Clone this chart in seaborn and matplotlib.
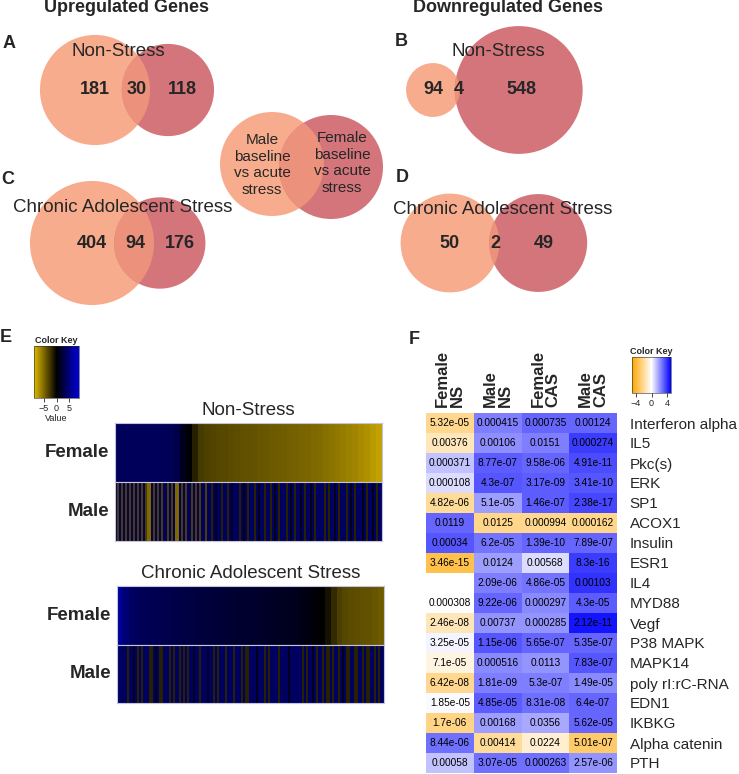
"""
Venn diagrams of up/downregulated genes plus expression and pathway heatmaps.
"""

import math

import matplotlib

matplotlib.use("Agg")
import matplotlib.pyplot as plt
import numpy as np
import pandas as pd
import seaborn as sns
from matplotlib.colors import LinearSegmentedColormap
from matplotlib.patches import Circle

W, H = 739, 774

# --- Venn counts: (only first set, shared, only second set) ---
UP_NS = (181, 30, 118)
UP_CAS = (404, 94, 176)
DOWN_NS = (94, 4, 548)
DOWN_CAS = (50, 2, 49)

# --- Panel E: female rows (sorted fold change), male rows (baseline + lines) ---
FEMALE_NS = [3.8, 3.7, 3.7, 3.7, 3.7, 3.7, 3.7, 3.7, 3.6, 3.5, 3.0, 1.2, 0.0, -1.5, -2.8,
             -3.1, -3.3, -3.4, -3.5, -3.6, -3.7, -3.8, -3.9, -4.0, -4.1, -4.2, -4.3, -4.4,
             -4.5, -4.6, -4.7, -4.8, -4.9, -5.0, -5.2, -5.4, -5.6, -5.8, -6.0, -6.2, -6.4,
             -6.7, -7.0, -7.4, -7.8]
FEMALE_CAS = [6.0, 4.8, 4.0, 3.7, 3.5, 3.4, 3.3, 3.2, 3.1, 3.0, 2.9, 2.8, 2.7, 2.6, 2.5,
              2.4, 2.3, 2.2, 2.1, 2.0, 1.95, 1.9, 1.85, 1.8, 1.7, 1.6, 1.5, 1.4, 1.3, 1.2,
              1.0, 0.8, 0.5, 0.25, 0.0, -0.8, -2.0, -3.0, -3.4, -3.6, -3.7, -3.8, -3.9,
              -4.1, -4.4]
MALE_N = 134
MALE_BASE = 4.0
MALE_NS_BRIGHT = [16, 17, 30, 31]
MALE_NS_GOLD = [1, 3, 5, 7, 9, 11, 13, 15, 19, 21, 23, 26, 28, 33, 35, 38, 40, 42, 45]
MALE_NS_DIM = [48, 53, 56, 62, 66, 70, 75, 78, 82, 86, 90, 95, 100, 105, 107, 112, 116,
               120, 126, 131]
MALE_NS_DARK = [50, 58, 64, 72, 80, 88, 93, 98, 110, 118, 124, 129]
MALE_CAS_LINES = [5, 10, 12, 16, 17, 21, 22, 26, 28, 31, 33, 35, 41, 48, 50, 54, 58, 62,
                  64, 65, 74, 76, 81, 93, 95, 100, 103, 105, 106, 108, 111, 115, 116, 119,
                  120, 123, 125, 126, 129, 131]
MALE_CAS_DARK = [8, 19, 38, 45, 70, 86, 98, 113]

# --- Panel F: pathway z-scores (colour) and p-values (text) ---
PATHWAYS = ["Interferon alpha", "IL5", "Pkc(s)", "ERK", "SP1", "ACOX1", "Insulin", "ESR1",
            "IL4", "MYD88", "Vegf", "P38 MAPK", "MAPK14", "poly rI:rC-RNA", "EDN1",
            "IKBKG", "Alpha catenin", "PTH"]
GROUPS = ["Female\nNS", "Male\nNS", "Female\nCAS", "Male\nCAS"]
Z_FEMALE_NS = [-2.2, -1.3, 1.2, 0.7, -2.0, 3.0, 3.3, -3.5, np.nan, 0.0, -1.4, 0.2, -0.6,
               -2.2, 0.1, -2.4, 2.8, 1.2]
Z_MALE_NS = [2.5, 2.2, 3.2, 3.3, 1.9, -2.3, 2.7, 1.9, 2.5, 3.0, 2.1, 3.3, 2.3, 2.5, 3.2,
             1.9, -2.0, 2.8]
Z_FEMALE_CAS = [3.0, 2.5, 3.0, 3.2, 3.2, -2.2, 3.0, 0.7, 2.7, 2.3, 2.1, 3.0, 2.1, 2.5, 2.8,
                1.7, -0.9, 2.8]
Z_MALE_CAS = [3.0, 3.8, 3.5, 3.3, 3.6, -2.3, 3.0, 3.8, 4.0, 3.2, 4.6, 3.0, 3.3, 2.3, 3.0,
              3.0, -2.9, 2.1]
P_FEMALE_NS = ["5.32e-05", "0.00376", "0.000371", "0.000108", "4.82e-06", "0.0119",
               "0.00034", "3.46e-15", "", "0.000308", "2.46e-08", "3.25e-05", "7.1e-05",
               "6.42e-08", "1.85e-05", "1.7e-06", "8.44e-06", "0.00058"]
P_MALE_NS = ["0.000415", "0.00106", "8.77e-07", "4.3e-07", "5.1e-05", "0.0125", "6.2e-05",
             "0.0124", "2.09e-06", "9.22e-06", "0.00737", "1.15e-06", "0.000516",
             "1.81e-09", "4.85e-05", "0.00168", "0.00414", "3.07e-05"]
P_FEMALE_CAS = ["0.000735", "0.0151", "9.58e-06", "3.17e-09", "1.46e-07", "0.000994",
                "1.39e-10", "0.00568", "4.86e-05", "0.000297", "0.000285", "5.65e-07",
                "0.0113", "5.3e-07", "8.31e-08", "0.0356", "0.0224", "0.000263"]
P_MALE_CAS = ["0.00124", "0.000274", "4.91e-11", "3.41e-10", "2.38e-17", "0.000162",
              "7.89e-07", "8.3e-16", "0.00103", "4.3e-05", "2.12e-11", "5.35e-07",
              "7.83e-07", "1.49e-05", "6.4e-07", "5.62e-05", "5.01e-07", "2.57e-06"]

LEFT_C, RIGHT_C, BOTH_C = "#F8AC8E", "#D3757A", "#EC927C"
CMAP_E = LinearSegmentedColormap.from_list("gold_black_blue", ["#E0BA00", "#000000", "#0000DA"])
CMAP_F = LinearSegmentedColormap.from_list("orange_white_blue", ["#FFA500", "#FFFFFF", "#0000FF"])


def rect(x0, y0, x1, y1):
    """Pixel box (top-left origin) -> figure fraction rect."""
    return [x0 / W, 1 - y1 / H, (x1 - x0) / W, (y1 - y0) / H]


def lens_area(r1, r2, d):
    if d >= r1 + r2:
        return 0.0
    if d <= abs(r1 - r2):
        return math.pi * min(r1, r2) ** 2
    a1 = r1 ** 2 * math.acos((d * d + r1 * r1 - r2 * r2) / (2 * d * r1))
    a2 = r2 ** 2 * math.acos((d * d + r2 * r2 - r1 * r1) / (2 * d * r2))
    a3 = 0.5 * math.sqrt((-d + r1 + r2) * (d + r1 - r2) * (d - r1 + r2) * (d + r1 + r2))
    return a1 + a2 - a3


def center_distance(r1, r2, area):
    lo, hi = abs(r1 - r2), r1 + r2
    for _ in range(60):
        mid = (lo + hi) / 2
        if lens_area(r1, r2, mid) > area:
            lo = mid
        else:
            hi = mid
    return (lo + hi) / 2


def draw_pair(ax, c1, c2, r1, r2):
    ax.add_patch(Circle(c1, r1, color=LEFT_C, lw=0))
    ax.add_patch(Circle(c2, r2, color=RIGHT_C, lw=0))
    clip = Circle(c1, r1, transform=ax.transData)
    lens = Circle(c2, r2, color=BOTH_C, lw=0)
    ax.add_patch(lens)
    lens.set_clip_path(clip)


def draw_venn(ax, counts, left_xy, scale, title, title_xy):
    only_a, both, only_b = counts
    r1 = scale * math.sqrt(only_a + both)
    r2 = scale * math.sqrt(only_b + both)
    d = center_distance(r1, r2, math.pi * scale ** 2 * both)
    x1, y = left_xy
    x2 = x1 + d
    draw_pair(ax, (x1, y), (x2, y), r1, r2)
    num = dict(fontsize=13, fontweight="bold", ha="center", va="center")
    ax.text(x1, y, str(only_a), **num)
    ax.text(((x2 - r2) + (x1 + r1)) / 2 + 1, y, str(both), **num)
    ax.text(((x1 + r1) + (x2 + r2)) / 2, y, str(only_b), **num)
    ax.text(*title_xy, title, fontsize=13.5, ha="center", va="center")


def expression_panel(fig, female, male, box, title):
    x0, y0, x1, y1 = box
    ym = (y0 + y1) / 2
    ax_f = fig.add_axes(rect(x0, y0, x1, ym))
    ax_m = fig.add_axes(rect(x0, ym, x1, y1))
    sns.heatmap(pd.DataFrame([female], index=["Female"]), ax=ax_f, cmap=CMAP_E,
                vmin=-9, vmax=9, cbar=False, xticklabels=False, antialiased=False)
    sns.heatmap(pd.DataFrame([male], index=["Male"]), ax=ax_m, cmap=CMAP_E,
                vmin=-9, vmax=9, cbar=False, xticklabels=False, antialiased=False)
    for ax in (ax_f, ax_m):
        ax.tick_params(axis="y", length=0, pad=4)
        for t in ax.get_yticklabels():
            t.set_rotation(0)
            t.set_fontsize(13.5)
            t.set_fontweight("bold")
        for sp in ax.spines.values():
            sp.set_visible(True)
            sp.set_color("#c4c4e0")
            sp.set_linewidth(0.8)
    ax_f.set_title(title, fontsize=13.5, pad=6)


def main() -> None:
    sns.set_style("white")
    plt.rcParams["font.family"] = ["Liberation Sans", "DejaVu Sans"]

    fig = plt.figure(figsize=(W / 100, H / 100), dpi=100)
    ax = fig.add_axes([0, 0, 1, 1])
    ax.set_xlim(0, W)
    ax.set_ylim(H, 0)
    ax.axis("off")

    # Venn panels A-D
    ax.text(127, 8, "Upregulated Genes", fontsize=13, fontweight="bold", ha="center", va="center")
    ax.text(508, 8, "Downregulated Genes", fontsize=13, fontweight="bold", ha="center", va="center")
    for letter, xy in zip("ABCDEF", [(9, 43), (401, 42), (8, 179), (402, 178), (6, 337), (414, 339)]):
        ax.text(*xy, letter, fontsize=13, fontweight="bold", ha="center", va="center")

    draw_venn(ax, UP_NS, (95, 90), 3.79, "Non-Stress", (118, 52))
    draw_venn(ax, DOWN_NS, (433, 90), 2.72, "Non-Stress", (498, 51))
    draw_venn(ax, UP_CAS, (92, 243), 2.78, "Chronic Adolescent Stress", (123, 208))
    draw_venn(ax, DOWN_CAS, (450, 243), 6.85, "Chronic Adolescent Stress", (503, 209))

    # legend venn
    draw_pair(ax, (272, 164), (331, 167), 52, 52)
    ax.text(262, 165, "Male\nbaseline\nvs acute\nstress", fontsize=11, ha="center",
            va="center", linespacing=1.25)
    ax.text(342, 163, "Female\nbaseline\nvs acute\nstress", fontsize=11, ha="center",
            va="center", linespacing=1.25)

    # Panel E
    def male_row(groups):
        row = np.full(MALE_N, MALE_BASE)
        for idx, val in groups:
            row[idx] = val
        return row

    male_ns = male_row([(MALE_NS_GOLD, -3.0), (MALE_NS_BRIGHT, -5.0),
                        (MALE_NS_DIM, -1.6), (MALE_NS_DARK, 1.0)])
    male_cas = male_row([(MALE_CAS_LINES, -1.6), (MALE_CAS_DARK, 1.2)])
    expression_panel(fig, FEMALE_NS, male_ns, (115, 423, 382, 541), "Non-Stress")
    expression_panel(fig, FEMALE_CAS, male_cas, (117, 586, 384, 703), "Chronic Adolescent Stress")

    key_e = fig.add_axes(rect(34, 346, 79, 398))
    cbar_e = fig.colorbar(plt.cm.ScalarMappable(norm=plt.Normalize(-9, 9), cmap=CMAP_E),
                          cax=key_e, orientation="horizontal", ticks=[-5, 0, 5])
    cbar_e.set_label("Value", fontsize=6.5, labelpad=1)
    key_e.set_title("Color Key", fontsize=6.5, fontweight="bold", pad=2)

    # Panel F
    z = pd.DataFrame({g: v for g, v in zip(GROUPS, [Z_FEMALE_NS, Z_MALE_NS, Z_FEMALE_CAS, Z_MALE_CAS])},
                     index=PATHWAYS)
    p = np.array([P_FEMALE_NS, P_MALE_NS, P_FEMALE_CAS, P_MALE_CAS]).T
    ax_f = fig.add_axes(rect(426, 413, 617, 773))
    key_f = fig.add_axes(rect(632, 357, 671, 393))
    sns.heatmap(z, ax=ax_f, cmap=CMAP_F, vmin=-5, vmax=5, annot=p, fmt="",
                annot_kws={"fontsize": 7.3, "color": "black"}, cbar_ax=key_f,
                cbar_kws={"orientation": "horizontal", "ticks": [-4, 0, 4]})
    ax_f.xaxis.tick_top()
    ax_f.yaxis.tick_right()
    ax_f.tick_params(axis="both", length=0)
    ax_f.tick_params(axis="y", pad=9)
    ax_f.tick_params(axis="x", pad=4)
    ax_f.set_xticklabels(GROUPS, rotation=90, fontsize=12, fontweight="bold",
                         ha="center", va="bottom", ma="left", linespacing=1.0)
    ax_f.set_yticklabels(PATHWAYS, rotation=0, fontsize=11, ha="left")
    ax_f.set_xlabel("")
    key_f.set_title("Color Key", fontsize=6.5, fontweight="bold", pad=2)

    for key in (key_e, key_f):
        key.tick_params(labelsize=6.5, length=3, width=0.6, pad=1)
        key.collections[0].set_antialiased(False) if key.collections else None
        for sp in key.spines.values():
            sp.set_linewidth(0.4)

    fig.savefig("out.png", dpi=100)
    plt.close(fig)


if __name__ == "__main__":
    main()
